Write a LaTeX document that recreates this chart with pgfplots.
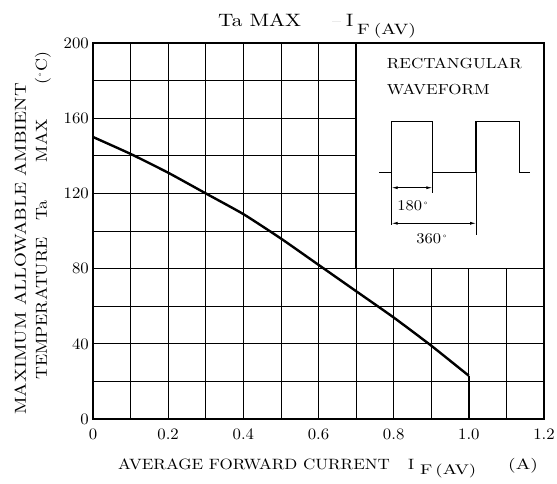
\documentclass[border=0pt]{standalone}
\usepackage{fontspec}
\setmainfont{lmroman10-regular.otf}[Ligatures=TeX]
\usepackage{pgfplots}
\pgfplotsset{compat=1.18}
\usetikzlibrary{arrows.meta}
\newcommand{\fs}[1]{\fontsize{#1}{#1}\selectfont}
\newcommand{\st}[1]{\addfontfeature{FakeStretch=#1}}
\begin{document}
\begin{tikzpicture}[x=1bp,y=1bp]
\begin{axis}[
  scale only axis, width=451bp, height=376bp,
  xmin=0, xmax=1.2, ymin=0, ymax=200,
  xtick={0,0.2,0.4,0.6,0.8,1.0,1.2},
  xticklabels={0,0.2,0.4,0.6,0.8,1.0,1.2},
  minor xtick={0.1,0.3,0.5,0.7,0.9,1.1},
  ytick={0,40,80,120,160,200},
  minor ytick={20,60,100,140,180},
  grid=both,
  major grid style={black, line width=0.7bp},
  minor grid style={black, line width=0.7bp},
  major tick length=0pt, minor tick length=0pt,
  axis line style={line width=1.6bp},
  /pgf/number format/assume math mode=true,
  tick label style={font=\fs{16}\st{1.05}},
  xticklabel style={anchor=north, inner sep=0pt, yshift=-10bp},
  yticklabel style={anchor=east, inner sep=0pt, xshift=-4bp},
]
\addplot[black, line width=2.4bp, smooth, tension=0.3] coordinates {
 (0,150) (0.1,141) (0.2,131) (0.3,120) (0.4,109) (0.5,96) (0.6,82) (0.7,68) (0.8,54) (0.9,39) (1.0,23)
};
\addplot[black, line width=2.4bp] coordinates {(1.0,23) (1.0,0)};
\end{axis}
% inset
\draw[line width=1.4bp, fill=white] (263.1,150.4) rectangle (451,376);
\draw[line width=1.6bp] (263.1,376) -- (451,376) -- (451,150.4);
\node[anchor=base west, inner sep=0pt, font=\fs{14.6}\st{1.17}] at (293.7,350) {RECTANGULAR};
\node[anchor=base west, inner sep=0pt, font=\fs{14.6}\st{1.17}] at (293.7,324) {WAVEFORM};
\draw[line width=1.3bp] (286,246.7) -- (298.7,246.7) -- (298.7,297.3) -- (339.3,297.3) -- (339.3,246.7) -- (383,246.7) -- (383,297.3) -- (426.3,297.3) -- (426.3,246.7) -- (437,246.7);
\draw[line width=0.7bp] (298.7,246.7) -- (298.7,194);
\draw[line width=0.7bp] (339.3,246.7) -- (339.3,225.7);
\draw[line width=0.7bp] (383,246.7) -- (383,184);
\draw[line width=0.8bp, {Latex[length=6bp,width=3bp]}-{Latex[length=6bp,width=3bp]}] (298.7,231.3) -- (339.3,231.3);
\draw[line width=0.8bp, {Latex[length=6bp,width=3bp]}-{Latex[length=6bp,width=3bp]}] (298.7,195.7) -- (383,195.7);
\node[inner sep=0pt, font=\fs{15}\st{1.1}] at (320.5,213) {180\raisebox{5bp}{\fs{9}\textopenbullet}};
\node[inner sep=0pt, font=\fs{15}\st{1.1}] at (339.5,180) {360\raisebox{5bp}{\fs{9}\textopenbullet}};
% title
\node[anchor=base west, inner sep=0pt, font=\fs{18}\st{1.19}] at (125,392) {Ta MAX};
\node[anchor=base west, inner sep=0pt, font=\fs{18}, text=black!20] at (239,392) {--};
\node[anchor=base west, inner sep=0pt, font=\fs{18}\st{1.1}] at (253,392) {I};
\node[anchor=base west, inner sep=0pt, font=\fs{15}\st{1.3}] at (264,384) {F\hspace{4bp}(AV)};
% x label
\node[anchor=base west, inner sep=0pt, font=\fs{15}\st{1.14}] at (25,-51) {AVERAGE FORWARD CURRENT};
\node[anchor=base west, inner sep=0pt, font=\fs{15}\st{1.12}] at (315,-51) {I};
\node[anchor=base west, inner sep=0pt, font=\fs{14}\st{1.35}] at (327,-56) {F\hspace{3bp}(AV)};
\node[anchor=base west, inner sep=0pt, font=\fs{15}\st{1.3}] at (415,-51) {(A)};
% y label
\node[rotate=90, anchor=base west, inner sep=0pt, font=\fs{16}\st{1.2}] at (-67,4) {MAXIMUM ALLOWABLE AMBIENT};
\node[rotate=90, anchor=base west, inner sep=0pt, font=\fs{16}\st{1.12}] at (-46,39) {TEMPERATURE\hspace{17bp}Ta\hspace{38bp}MAX\hspace{34bp}(\raisebox{5bp}{\fs{8}\textopenbullet}C)};
\pgfresetboundingbox
\path (-93,-65) rectangle (464,419);
\end{tikzpicture}
\end{document}
